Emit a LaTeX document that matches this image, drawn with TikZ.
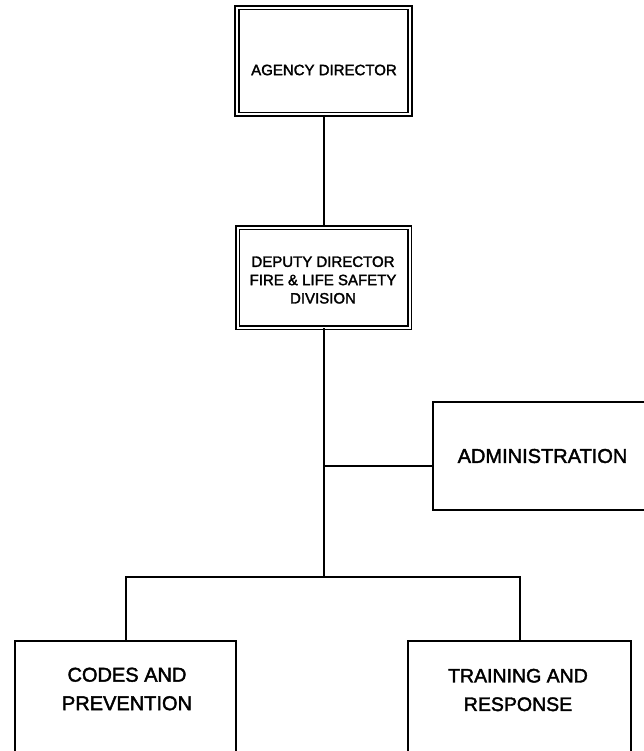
\documentclass[tikz,border=0pt]{standalone}
\usepackage{fontspec}
\setmainfont[FakeBold=2]{Liberation Sans}
\begin{document}
\begin{tikzpicture}[x=1pt,y=-1pt,line width=2pt,
  unitbox/.style={draw=black,rectangle,inner sep=0pt},
  headbox/.style={unitbox,line width=1.7pt,double=white,double distance=2pt},
  smalltext/.style={align=center,font=\fontsize{15}{18.3}\selectfont,inner sep=0pt},
  bigtext/.style={align=center,font=\fontsize{20}{28.5}\selectfont,inner sep=0pt},
  link/.style={draw=black,line width=2pt}]
\useasboundingbox (0,0) rectangle (644,751);
\clip (0,0) rectangle (644,751);

% top two offices, double-ruled frames
\node[headbox,minimum width=173pt,minimum height=106.8pt] (agency) at (323.5,61) {};
\node[smalltext] (agencytxt) at (324,70) {AGENCY DIRECTOR};

\node[headbox,minimum width=172pt,minimum height=100pt] (deputy) at (323.5,277.5) {};
\node[smalltext] (deputytxt) at (323,280) {DEPUTY DIRECTOR\\FIRE \& LIFE SAFETY\\DIVISION};

% staff unit on the right
\node[unitbox,minimum width=220pt,minimum height=108pt] (admin) at (543,456) {};
\node[bigtext] (admintxt) at (542.5,456) {ADMINISTRATION};

% the two line units at the bottom
\node[unitbox,minimum width=221pt,minimum height=160pt] (codes) at (125.5,721) {};
\node[bigtext] (codestxt) at (127,689) {CODES AND\\PREVENTION};

\node[unitbox,minimum width=223pt,minimum height=160pt] (training) at (519.5,721) {};
\node[bigtext,font=\fontsize{19.5}{28.5}\selectfont] (trainingtxt) at (518,690) {TRAINING AND\\RESPONSE};

% reporting lines
\coordinate (tap) at (323.5,466);
\coordinate (hub) at (323.5,577);
\draw[link] (agency.south) -- (deputy.north);
\draw[link] (deputy.south) -- (hub);
\draw[link] (tap) -- (tap -| admin.west);
\draw[link] (codes.north) |- (hub) -| (training.north);
\end{tikzpicture}
\end{document}
